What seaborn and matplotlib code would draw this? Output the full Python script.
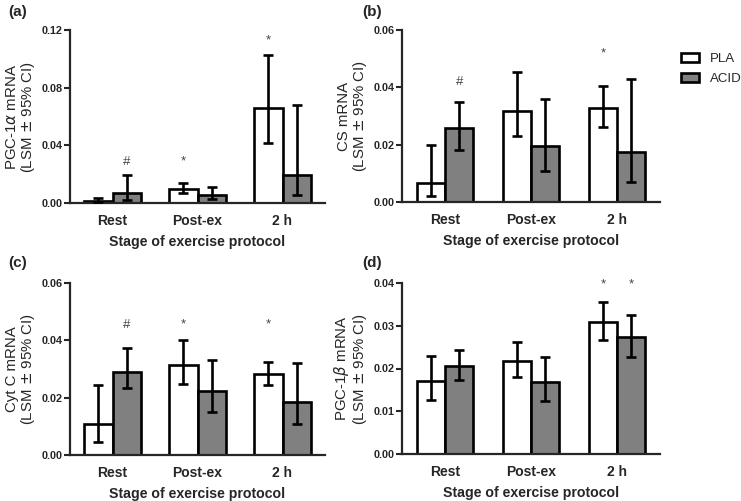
import numpy as np
import pandas as pd
import matplotlib
matplotlib.use("Agg")
import matplotlib.pyplot as plt
from matplotlib.patches import Patch
import seaborn as sns

stages = ["Rest", "Post-ex", "2 h"]
groups = ["PLA", "ACID"]

# Panel (a) PGC-1alpha
a_pla = [0.0015, 0.0095, 0.066]
a_pla_lo = [0.0005, 0.0067, 0.0418]
a_pla_hi = [0.0035, 0.0137, 0.1027]
a_acid = [0.0071, 0.0055, 0.0192]
a_acid_lo = [0.002, 0.0026, 0.0055]
a_acid_hi = [0.0194, 0.011, 0.068]

# Panel (b) CS
b_pla = [0.0066, 0.0318, 0.0327]
b_pla_lo = [0.002, 0.0229, 0.026]
b_pla_hi = [0.020, 0.0452, 0.0406]
b_acid = [0.0258, 0.0194, 0.0176]
b_acid_lo = [0.018, 0.0107, 0.0069]
b_acid_hi = [0.0348, 0.0359, 0.043]

# Panel (c) Cyt C
c_pla = [0.0107, 0.0315, 0.0283]
c_pla_lo = [0.0047, 0.0247, 0.0245]
c_pla_hi = [0.0245, 0.040, 0.0326]
c_acid = [0.0289, 0.0224, 0.0186]
c_acid_lo = [0.0233, 0.0149, 0.0108]
c_acid_hi = [0.0372, 0.0332, 0.032]

# Panel (d) PGC-1beta
d_pla = [0.01715, 0.0218, 0.0308]
d_pla_lo = [0.01255, 0.0181, 0.0266]
d_pla_hi = [0.023, 0.0261, 0.0355]
d_acid = [0.0205, 0.0168, 0.0274]
d_acid_lo = [0.0172, 0.0124, 0.0228]
d_acid_hi = [0.0244, 0.0228, 0.0326]

y_ticks_a = [0.00, 0.04, 0.08, 0.12]
y_ticks_b = [0.00, 0.02, 0.04, 0.06]
y_ticks_c = [0.00, 0.02, 0.04, 0.06]
y_ticks_d = [0.00, 0.01, 0.02, 0.03, 0.04]

# significance marks: (group, stage index, symbol, height)
marks_a = [("ACID", 0, "#", 0.0285), ("PLA", 1, "*", 0.0285), ("PLA", 2, "*", 0.113)]
marks_b = [("ACID", 0, "#", 0.042), ("PLA", 2, "*", 0.0519)]
marks_c = [("ACID", 0, "#", 0.0454), ("PLA", 1, "*", 0.0454), ("PLA", 2, "*", 0.0454)]
marks_d = [("PLA", 2, "*", 0.0396), ("ACID", 2, "*", 0.0396)]

ylabels = [r"PGC-1$\alpha$ mRNA", "CS mRNA", "Cyt C mRNA", r"PGC-1$\beta$ mRNA"]
panel_tags = ["(a)", "(b)", "(c)", "(d)"]

sns.set_style("ticks")
plt.rcParams["font.family"] = ["Liberation Sans", "DejaVu Sans"]
plt.rcParams["mathtext.fontset"] = "dejavusans"

W, H = 741, 501
fig = plt.figure(figsize=(W / 100, H / 100), dpi=100)

def px_axes(l, t, r, b):
    return fig.add_axes([l / W, 1 - b / H, (r - l) / W, (b - t) / H])

boxes = [(70, 30, 325, 203), (402, 30, 660, 202), (70, 283, 325, 455), (402, 283, 660, 454)]
panels = [
    (a_pla, a_pla_lo, a_pla_hi, a_acid, a_acid_lo, a_acid_hi, y_ticks_a, marks_a),
    (b_pla, b_pla_lo, b_pla_hi, b_acid, b_acid_lo, b_acid_hi, y_ticks_b, marks_b),
    (c_pla, c_pla_lo, c_pla_hi, c_acid, c_acid_lo, c_acid_hi, y_ticks_c, marks_c),
    (d_pla, d_pla_lo, d_pla_hi, d_acid, d_acid_lo, d_acid_hi, y_ticks_d, marks_d),
]
palette = {"PLA": "white", "ACID": "#808080"}

for i, (box, p) in enumerate(zip(boxes, panels)):
    pla, pla_lo, pla_hi, acid, acid_lo, acid_hi, yt, marks = p
    ax = px_axes(*box)
    df = pd.DataFrame({
        "Stage": stages * 2,
        "Group": ["PLA"] * 3 + ["ACID"] * 3,
        "Value": list(pla) + list(acid),
        "Lo": list(pla_lo) + list(acid_lo),
        "Hi": list(pla_hi) + list(acid_hi),
    })
    sns.barplot(data=df, x="Stage", y="Value", hue="Group", order=stages,
                hue_order=groups, palette=palette, errorbar=None, width=0.66,
                edgecolor="black", linewidth=1.9, legend=False, ax=ax, zorder=2)
    centers = {}
    for g, cont in zip(groups, ax.containers):
        sub = df[df["Group"] == g].set_index("Stage").loc[stages]
        xs = [bar.get_x() + bar.get_width() / 2 for bar in cont]
        centers[g] = xs
        vals = sub["Value"].values
        yerr = np.vstack([vals - sub["Lo"].values, sub["Hi"].values - vals])
        ax.errorbar(xs, vals, yerr=yerr, fmt="none", ecolor="black",
                    elinewidth=1.9, capsize=3.5, capthick=1.9, zorder=3)
    for g, si, sym, hgt in marks:
        ax.text(centers[g][si], hgt, sym, ha="center", va="center",
                fontsize=9.5, color="#444444")
    ax.set_xlim(-0.5, 2.5)
    ax.set_ylim(yt[0], yt[-1])
    ax.set_yticks(yt)
    ax.set_yticklabels([f"{v:.2f}" for v in yt], fontweight="bold", fontsize=7.8)
    for lab in ax.get_xticklabels():
        lab.set_fontweight("bold")
        lab.set_fontsize(10)
    ax.tick_params(axis="x", length=0, pad=8)
    ax.tick_params(axis="y", length=4, width=1.5, pad=1.5)
    for s in ["left", "bottom"]:
        ax.spines[s].set_linewidth(1.6)
    sns.despine(ax=ax)
    ax.set_xlabel("Stage of exercise protocol", fontweight="bold", fontsize=10.2, labelpad=5)
    ax.set_ylabel(ylabels[i] + "\n(LSM $\\pm$ 95% CI)", fontsize=10.8, labelpad=3,
                  linespacing=1.0)
    lx = 8 if i % 2 == 0 else 362
    ly = 12 if i < 2 else 263
    fig.text(lx / W, 1 - ly / H, panel_tags[i], fontweight="bold", fontsize=11,
             va="center", ha="left")

handles = [Patch(facecolor=palette[g], edgecolor="black", linewidth=1.9, label=g)
           for g in groups]
fig.legend(handles=handles, loc="upper left", bbox_to_anchor=(676 / W, 1 - 48 / H),
           frameon=False, fontsize=9.5, handlelength=1.35, handleheight=0.65,
           handletextpad=0.8, labelspacing=0.6, borderaxespad=0)

fig.savefig("out.png", dpi=100)
